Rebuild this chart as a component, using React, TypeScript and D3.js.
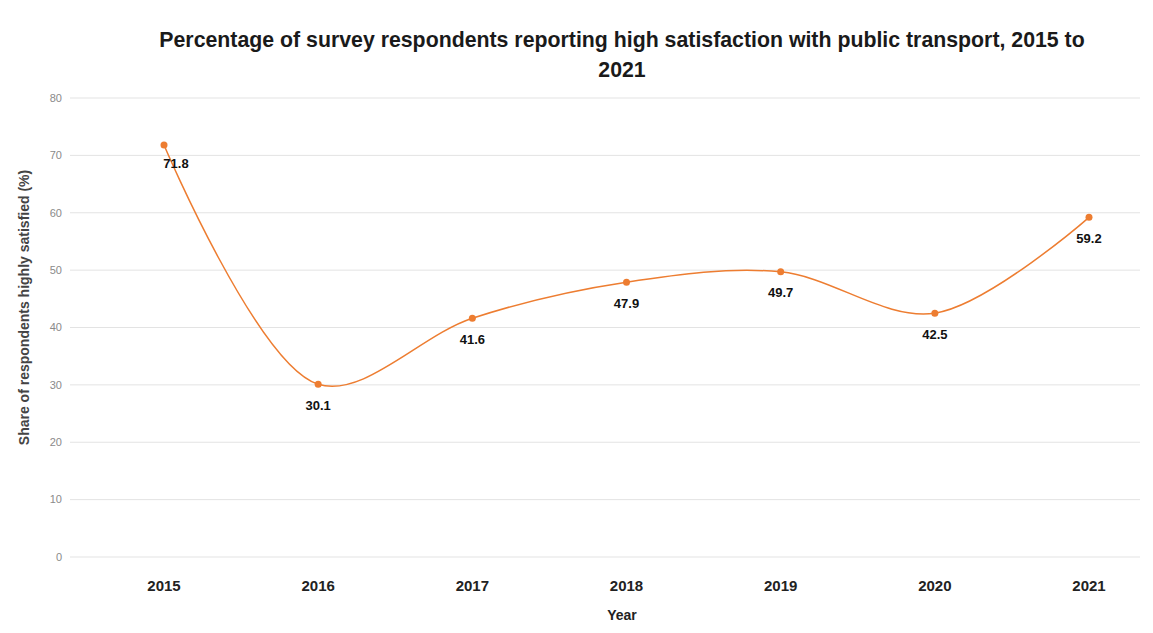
import React from "react";
import * as d3 from "d3";

const titleLines = [
  "Percentage of survey respondents reporting high satisfaction with public transport, 2015 to",
  "2021",
];
const categories = ["2015", "2016", "2017", "2018", "2019", "2020", "2021"];
const values = [71.8, 30.1, 41.6, 47.9, 49.7, 42.5, 59.2];
const yTicks = [0, 10, 20, 30, 40, 50, 60, 70, 80];
const yAxisTitle = "Share of respondents highly satisfied (%)";
const xAxisTitle = "Year";

const W = 1153;
const H = 633;
const FONT = "'Liberation Sans', Arial, sans-serif";

export default function App() {
  const x = d3.scalePoint<string>().domain(categories).range([164, 1089]);
  const y = d3.scaleLinear().domain([0, 80]).range([557, 98]);
  const line = d3
    .line<number>()
    .x((_, i) => x(categories[i]) as number)
    .y((d) => y(d))
    .curve(d3.curveCatmullRom.alpha(0.5));

  return (
    <svg
      width={W}
      height={H}
      style={{ position: "absolute", left: 0, top: 0, background: "#fff" }}
      fontFamily={FONT}
    >
      {titleLines.map((t, i) => (
        <text
          key={i}
          x={622}
          y={47 + i * 30}
          textAnchor="middle"
          fontSize={21.3}
          fontWeight="bold"
          fill="#1a1a1a"
        >
          {t}
        </text>
      ))}
      {yTicks.map((t) => (
        <g key={t}>
          <line x1={70} x2={1140} y1={y(t)} y2={y(t)} stroke="#e3e3e3" strokeWidth={1} />
          <text
            x={62}
            y={y(t)}
            dy="0.35em"
            textAnchor="end"
            fontSize={11}
            fill="#8a8a8a"
          >
            {t}
          </text>
        </g>
      ))}
      <text
        transform={`translate(24,${(175 + 440) / 2}) rotate(-90)`}
        textAnchor="middle"
        dy="0.35em"
        fontSize={14}
        fontWeight="bold"
        fill="#444"
      >
        {yAxisTitle}
      </text>
      {categories.map((c) => (
        <text
          key={c}
          x={x(c) as number}
          y={586}
          dy="0.35em"
          textAnchor="middle"
          fontSize={15}
          fontWeight="bold"
          fill="#222"
        >
          {c}
        </text>
      ))}
      <text
        x={622}
        y={615}
        dy="0.35em"
        textAnchor="middle"
        fontSize={14}
        fontWeight="bold"
        fill="#222"
      >
        {xAxisTitle}
      </text>
      <path d={line(values) || ""} fill="none" stroke="#ED7D31" strokeWidth={1.5} />
      {values.map((v, i) => (
        <g key={i}>
          <circle cx={x(categories[i]) as number} cy={y(v)} r={3.5} fill="#ED7D31" />
          <text
            x={(x(categories[i]) as number) + (i === 0 ? 12 : 0)}
            y={y(v) + (i === 0 ? 18 : 21)}
            dy="0.35em"
            textAnchor="middle"
            fontSize={13}
            fontWeight="bold"
            fill="#111"
          >
            {v.toFixed(1)}
          </text>
        </g>
      ))}
    </svg>
  );
}
